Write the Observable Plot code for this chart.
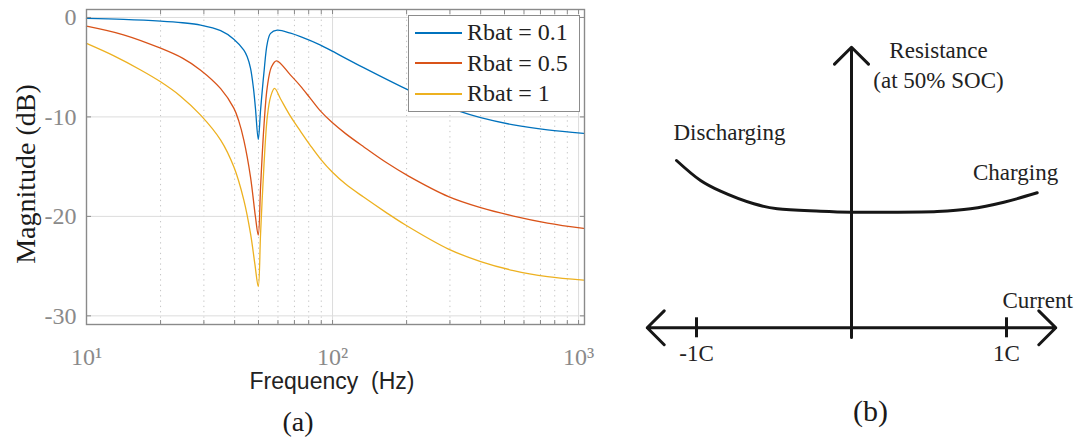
<!DOCTYPE html>
<html><head><meta charset="utf-8">
<script src="https://cdn.jsdelivr.net/npm/d3@7"></script>
<script src="https://cdn.jsdelivr.net/npm/@observablehq/plot@0.6"></script>
<style>
body{margin:0;background:#fff;}
#wrap{position:relative;width:1079px;height:447px;overflow:hidden;background:#fff;}
#pa{position:absolute;left:0;top:0;}
#pb{position:absolute;left:600px;top:0;}
#legend{position:absolute;left:408px;top:15px;width:170px;height:95px;border:1.5px solid #8c8c8c;background:#fff;font-family:"Liberation Serif","Times New Roman",serif;font-size:24px;color:#222;}
.row{position:absolute;left:6px;height:30px;display:flex;align-items:center;white-space:pre;}
.sw{display:inline-block;width:47px;height:0;border-top:2px solid;margin-right:5px;}
</style></head><body>
<div id="wrap"><div id="pa"></div><div id="pb"></div><div id="legend"></div></div>
<script>
// ---------- Panel (a) data ----------
const seriesNames = ["Rbat = 0.1", "Rbat = 0.5", "Rbat = 1"];
const seriesColors = ["#0072BD", "#D95319", "#EDB120"];

const freqBlue = [10, 14.14, 20.0, 24.56, 29.1, 35.1, 39.7, 43.6, 45.0, 46.4, 47.7, 48.6, 49.9, 51.0, 52.6, 54.3, 56.0, 59.6, 67.5, 74.1, 89.4, 99.7, 133.7, 203.7, 262, 322, 400, 544, 748, 1048];
const magBlue  = [-0.10, -0.19, -0.36, -0.53, -0.77, -1.33, -2.18, -3.29, -3.96, -5.10, -7.11, -9.12, -12.26, -9.3, -5.6, -2.6, -1.6, -1.28, -1.58, -1.93, -2.78, -3.39, -5.05, -7.31, -8.51, -9.37, -10.07, -10.80, -11.31, -11.66];

const freqRed = [10, 14.14, 20.0, 24.56, 29.1, 35.1, 39.7, 41.6, 43.6, 46.4, 48.6, 49.9, 51.0, 52.6, 54.3, 56.5, 59.2, 67.5, 74.1, 81.4, 89.4, 99.7, 113, 133.7, 164.2, 203.7, 296, 400, 544, 748, 1048];
const magRed  = [-0.87, -1.74, -3.09, -4.09, -5.30, -7.16, -9.12, -10.42, -12.33, -16.02, -20.04, -21.88, -17.0, -11.0, -6.97, -4.96, -4.36, -5.80, -6.90, -8.16, -9.42, -10.57, -11.68, -13.0, -14.54, -15.95, -18.01, -19.12, -19.97, -20.67, -21.21];

const freqYellow = [10, 12.87, 16.6, 20.0, 24.1, 29.1, 35.1, 39.7, 43.6, 46.4, 48.3, 49.9, 51.0, 52.6, 54.3, 56.0, 58.1, 61.5, 67.5, 74.1, 81.4, 89.4, 99.7, 113, 133.7, 164.2, 198, 296, 400, 544, 748, 1048];
const magYellow  = [-2.61, -3.84, -5.28, -6.47, -7.91, -9.82, -12.33, -15.02, -18.36, -21.71, -24.72, -27.07, -21.7, -15.0, -10.0, -7.98, -7.14, -8.2, -9.95, -11.45, -12.9, -14.24, -15.54, -16.75, -18.06, -19.57, -20.87, -23.29, -24.54, -25.45, -26.05, -26.4];

const xTicks = [10, 100, 1000];
const xTickLabels = ["10\u00B9", "10\u00B2", "10\u00B3"];
const xMinor = [20, 30, 40, 50, 60, 70, 80, 90, 200, 300, 400, 500, 600, 700, 800, 900];
const yTicks = [0, -10, -20, -30];
const xLabel = "Frequency  (Hz)";
const yLabel = "Magnitude (dB)";

// ---------- Panel (b) data (schematic) ----------
const current = [-1.129, -0.974, -0.845, -0.630, -0.479, -0.2, 0, 0.23, 0.553, 0.768, 0.983, 1.198];
const resistance = [1.673, 1.473, 1.366, 1.24, 1.19, 1.166, 1.156, 1.156, 1.163, 1.19, 1.256, 1.35];
const currentTicks = [-1, 1];
const currentTickLabels = ["-1C", "1C"];
const currentMax = 1.318;
const resistanceMax = 2.806;

// ---------- Panel (a) ----------
const rows = [];
[[freqBlue, magBlue], [freqRed, magRed], [freqYellow, magYellow]].forEach(([f, m], k) => {
  f.forEach((v, i) => rows.push({f: v, m: m[i], s: seriesNames[k]}));
});
const serif = "'Liberation Serif','Times New Roman',serif";
const sans = "'Liberation Sans',Arial,sans-serif";
const allXTicks = xTicks.concat(xMinor);

const plotA = Plot.plot({
  width: 600, height: 447,
  marginLeft: 86, marginRight: 16, marginTop: 9, marginBottom: 123,
  x: {type: "log", domain: [10, 1057]},
  y: {domain: [-30.87, 0.8]},
  color: {domain: seriesNames, range: seriesColors},
  style: {fontFamily: serif, background: "transparent"},
  marks: [
    Plot.ruleX(xMinor, {stroke: "#c4c4c4", strokeDasharray: "1.3,4", strokeWidth: 1}),
    Plot.ruleX(xTicks, {stroke: "#dcdcdc", strokeWidth: 1}),
    Plot.ruleY(yTicks, {stroke: "#dcdcdc", strokeWidth: 1}),
    Plot.line(rows, {x: "f", y: "m", z: "s", stroke: "s", curve: "catmull-rom", strokeWidth: 1.3}),
    Plot.axisX({anchor: "bottom", ticks: allXTicks, tickSize: -4, tickFormat: () => "", stroke: "#888", label: null}),
    Plot.axisX({anchor: "top", ticks: allXTicks, tickSize: -4, tickFormat: () => "", stroke: "#888", label: null}),
    Plot.axisY({anchor: "right", ticks: yTicks, tickSize: -5, tickFormat: () => "", stroke: "#888", label: null}),
    Plot.axisY({anchor: "left", ticks: yTicks, tickSize: -5, tickFormat: () => "", stroke: "#888", label: null}),
    Plot.frame({stroke: "#8a8a8a", strokeWidth: 1.4}),
    Plot.axisX({anchor: "bottom", ticks: xTicks, tickSize: 0, tickPadding: 23, fontFamily: serif,
      tickFormat: (d) => xTickLabels[xTicks.indexOf(d)], fontSize: 24, fill: "#8a8a8a", label: null}),
    Plot.axisY({anchor: "left", ticks: yTicks, tickSize: 0, tickPadding: 10, fontFamily: serif,
      tickFormat: (d) => String(d), fontSize: 24, fill: "#8a8a8a", label: null}),
    Plot.text([xLabel], {text: (d) => d, frameAnchor: "bottom", dx: -3.5, dy: 64,
      fontFamily: sans, fontSize: 23, fill: "#222"}),
    Plot.text([yLabel], {text: (d) => d, frameAnchor: "left", textAnchor: "middle", rotate: -90, dx: -60, dy: 7,
      fontFamily: serif, fontSize: 28, fill: "#1a1a1a"}),
    Plot.text(["(a)"], {text: (d) => d, frameAnchor: "bottom", dx: -37.5, dy: 106, fontFamily: serif, fontSize: 28, fill: "#1a1a1a"})
  ]
});
document.getElementById("pa").appendChild(plotA);

// legend
const leg = document.getElementById("legend");
seriesNames.forEach((n, i) => {
  const r = document.createElement("div");
  r.className = "row";
  r.style.top = (1.5 + i * 30.5) + "px";
  const sw = document.createElement("span");
  sw.className = "sw";
  sw.style.borderTopColor = seriesColors[i];
  const t = document.createElement("span");
  t.textContent = n;
  r.appendChild(sw); r.appendChild(t);
  leg.appendChild(r);
});

// ---------- Panel (b) ----------
const curvePts = current.map((c, i) => ({c, r: resistance[i]}));
const ink = "#161616";
const fs = 23;
const plotB = Plot.plot({
  width: 479, height: 447,
  marginLeft: 0, marginRight: 0, marginTop: 0, marginBottom: 0,
  x: {domain: [-1.6194, 1.4710], axis: null},
  y: {domain: [-1.197, 3.273], axis: null},
  style: {fontFamily: serif, background: "transparent"},
  marks: [
    Plot.line(curvePts, {x: "c", y: "r", curve: "catmull-rom", stroke: ink, strokeWidth: 3}),
    Plot.arrow([-currentMax, currentMax], {x1: 0, y1: 0, x2: (d) => d, y2: 0, stroke: ink, strokeWidth: 3, headLength: 12, headAngle: 90}),
    Plot.arrow([resistanceMax], {x1: 0, y1: -0.097, x2: 0, y2: (d) => d, stroke: ink, strokeWidth: 3, headLength: 12, headAngle: 90}),
    Plot.ruleX(currentTicks, {y1: -0.1, y2: 0.1, stroke: ink, strokeWidth: 3}),
    Plot.text(currentTicks, {x: (d) => d, y: 0, text: (d, i) => currentTickLabels[i], dy: 26, fontFamily: serif, fontSize: fs, fill: "#222"}),
    Plot.text([currentMax], {x: (d) => d, y: 0, text: () => "Current", textAnchor: "end", dx: 17, dy: -27, fontFamily: serif, fontSize: fs, fill: "#222"}),
    Plot.text([resistanceMax], {x: 0, y: (d) => d, text: () => "Resistance", dx: 87, dy: 3, fontFamily: serif, fontSize: fs, fill: "#222"}),
    Plot.text([resistanceMax], {x: 0, y: (d) => d, text: () => "(at 50% SOC)", dx: 87, dy: 33, fontFamily: serif, fontSize: fs, fill: "#222"}),
    Plot.text([curvePts[0]], {x: "c", y: "r", text: () => "Discharging", textAnchor: "start", dx: -3, dy: -28, fontFamily: serif, fontSize: fs, fill: "#222"}),
    Plot.text([curvePts[curvePts.length - 1]], {x: "c", y: "r", text: () => "Charging", textAnchor: "end", dx: 21, dy: -20.6, fontFamily: serif, fontSize: fs, fill: "#222"}),
    Plot.text([0], {x: 0, y: 0, text: () => "(b)", dx: 19, dy: 84, fontFamily: serif, fontSize: 30, fill: "#1a1a1a"})
  ]
});
document.getElementById("pb").appendChild(plotB);
</script>
</body></html>
